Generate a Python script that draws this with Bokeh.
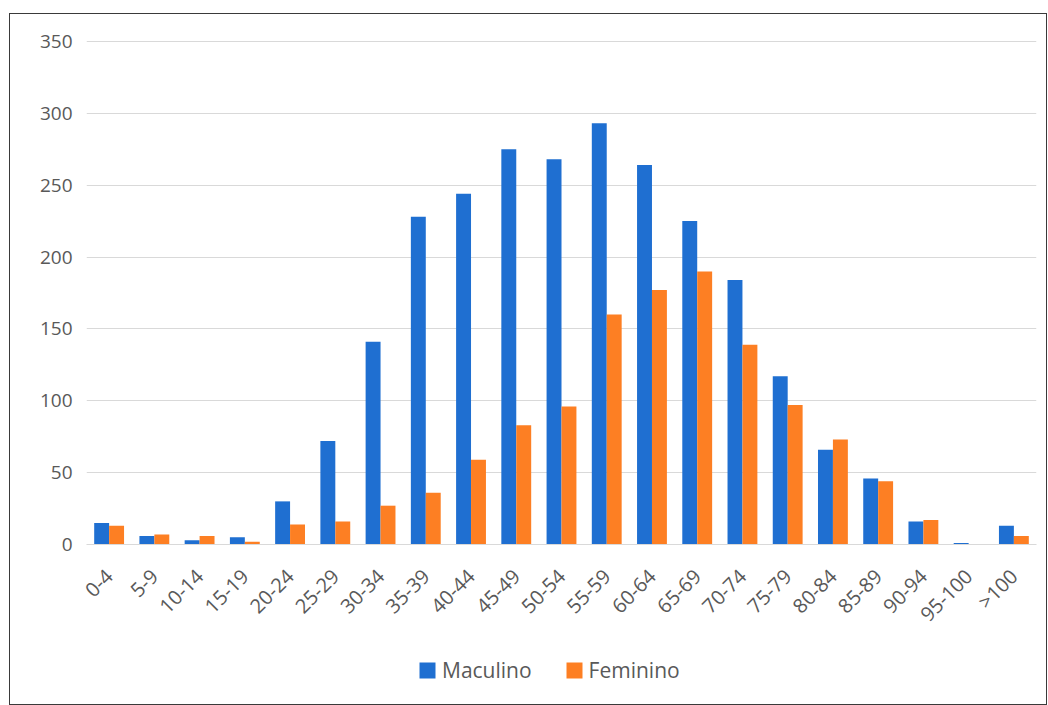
import math
from bokeh.plotting import figure
from bokeh.layouts import column
from bokeh.models import ColumnDataSource, FactorRange, Legend, LegendItem
from bokeh.transform import dodge
from bokeh.embed import file_html
from bokeh.resources import INLINE

categories = ["0-4", "5-9", "10-14", "15-19", "20-24", "25-29", "30-34", "35-39",
              "40-44", "45-49", "50-54", "55-59", "60-64", "65-69", "70-74", "75-79",
              "80-84", "85-89", "90-94", "95-100", ">100"]
masculino = [15, 6, 3, 5, 30, 72, 141, 228, 244, 275, 268, 293, 264, 225, 184, 117,
             66, 46, 16, 1, 13]
feminino = [13, 7, 6, 2, 14, 16, 27, 36, 59, 83, 96, 160, 177, 190, 139, 97,
            73, 44, 17, 0, 6]
y_ticks = [0, 50, 100, 150, 200, 250, 300, 350]
series_names = ["Maculino", "Feminino"]

FONT = "Open Sans"
BLUE = "#1f6fd1"
ORANGE = "#fd7f23"
TXT = "#595959"
W = 1036
H1 = 634
H2 = 56

src = ColumnDataSource(dict(cat=categories, m=masculino, f=feminino))
xr = FactorRange(*categories)

p = figure(x_range=xr, y_range=(0, 352),
           width=W, height=H1,
           output_backend="svg", toolbar_location=None,
           min_border_left=76, min_border_right=W - 76 - 950, min_border_top=24,
           min_border_bottom=H1 - 24 - 506)
p.outline_line_color = None
p.background_fill_color = "white"
p.border_fill_color = "white"

bw = 0.33
p.vbar(x=dodge("cat", -bw / 2, range=xr), top="m", width=bw, bottom=0,
       source=src, fill_color=BLUE, line_color=None)
p.vbar(x=dodge("cat", bw / 2, range=xr), top="f", width=bw, bottom=0,
       source=src, fill_color=ORANGE, line_color=None)

p.xgrid.grid_line_color = None
p.ygrid.grid_line_color = "#d9d9d9"
p.ygrid.grid_line_width = 1
p.yaxis.ticker = y_ticks
p.yaxis.axis_line_color = None
p.yaxis.major_tick_line_color = None
p.yaxis.minor_tick_line_color = None
p.yaxis.major_tick_out = 0
p.yaxis.major_label_text_font = FONT
p.yaxis.major_label_text_font_size = "19px"
p.yaxis.major_label_text_color = TXT
p.yaxis.major_label_standoff = 14

p.xaxis.axis_line_color = "#d9d9d9"
p.xaxis.major_tick_line_color = None
p.xaxis.minor_tick_line_color = None
p.xaxis.major_tick_out = 0
p.xaxis.major_label_orientation = math.pi / 4
p.xaxis.major_label_text_font = FONT
p.xaxis.major_label_text_font_size = "20px"
p.xaxis.major_label_text_color = TXT
p.xaxis.major_label_standoff = 28

# legend strip below the chart (bars here fall outside its y range, so only the legend shows)
p2 = figure(width=W, height=H2, output_backend="svg", toolbar_location=None,
            x_range=xr, y_range=(1000, 1001),
            x_axis_location=None, y_axis_location=None,
            min_border=0)
p2.outline_line_color = None
p2.grid.grid_line_color = None
lm = p2.vbar(x=dodge("cat", -bw / 2, range=xr), top="m", width=bw, bottom=0,
             source=src, fill_color=BLUE, line_color=None)
lf = p2.vbar(x=dodge("cat", bw / 2, range=xr), top="f", width=bw, bottom=0,
             source=src, fill_color=ORANGE, line_color=None)
legend = Legend(items=[LegendItem(label=series_names[0], renderers=[lm]),
                       LegendItem(label=series_names[1], renderers=[lf])],
                orientation="horizontal", location=(331, 20),
                label_text_font=FONT, label_text_font_size="21px",
                label_text_color=TXT, border_line_color=None,
                background_fill_alpha=0,
                glyph_width=20, glyph_height=20, spacing=32, label_standoff=5,
                margin=0, padding=0)
p2.add_layout(legend, "center")

layout = column(p, p2, spacing=0)
layout.margin = (13, 0, 0, 9)
layout.styles = {"border": "1px solid #3a3a3a"}

open("out.html", "w").write(file_html(layout, INLINE))
